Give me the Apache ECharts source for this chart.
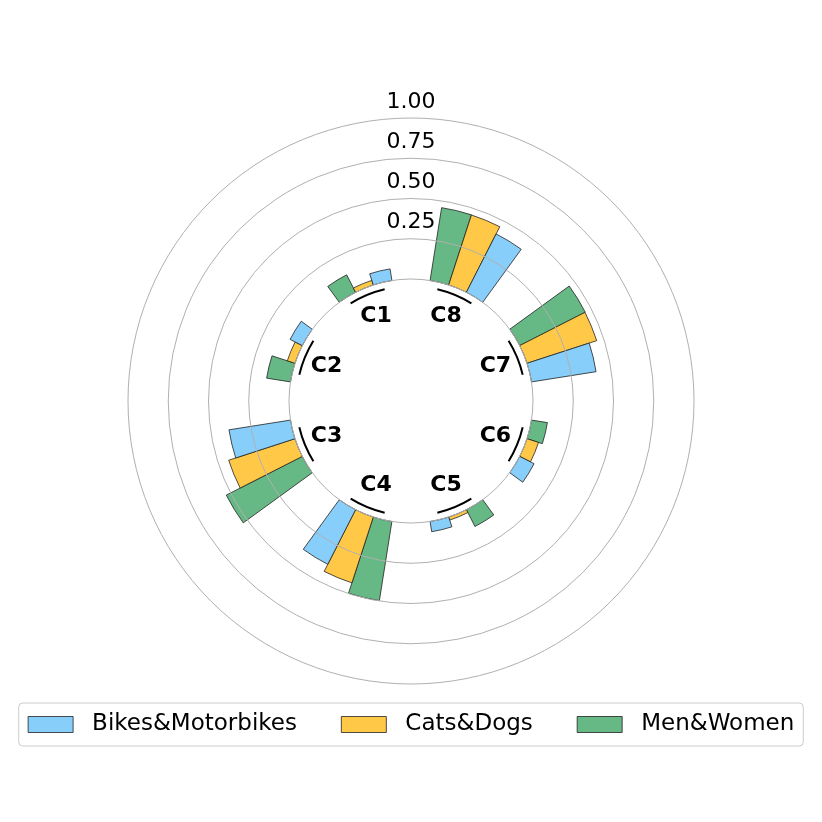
<!DOCTYPE html>
<html>
<head>
<meta charset="utf-8">
<script src="https://cdn.jsdelivr.net/npm/echarts@6/dist/echarts.min.js"></script>
<style>
  html, body { margin: 0; padding: 0; background: #fff; }
  #chart { width: 822px; height: 822px; }
</style>
</head>
<body>
<div id="chart"></div>
<script>
// categories and series values
const categories = ['C1', 'C2', 'C3', 'C4', 'C5', 'C6', 'C7', 'C8']
const bikes = [0.073, 0.085, 0.387, 0.381, 0.064, 0.100, 0.406, 0.407]
const cats = [0.030, 0.050, 0.433, 0.430, 0.020, 0.075, 0.455, 0.457]
const men = [0.122, 0.150, 0.530, 0.498, 0.117, 0.100, 0.457, 0.458]
const seriesNames = ['Bikes&Motorbikes', 'Cats&Dogs', 'Men&Women']
const radiusTicks = [0, 0.25, 0.5, 0.75, 1.0]

const colors = ['#87CEFA', '#FFC947', '#66B884']
const font = 'DejaVu Sans'

const chart = echarts.init(document.getElementById('chart'))

// added in reverse so that, going counter-clockwise, bikes come first
const barSeries = [bikes, cats, men].map((vals, k) => ({
  type: 'bar',
  name: seriesNames[k],
  coordinateSystem: 'polar',
  data: vals,
  barGap: '0%',
  barCategoryGap: '40%',
  itemStyle: {
    color: colors[k],
    borderColor: '#222',
    borderWidth: 0.8
  }
})).reverse()

// category labels and the black arcs inside the hole
const labelSeries = {
  type: 'custom',
  coordinateSystem: 'polar',
  silent: true,
  data: categories.map((c, i) => [0, i]),
  renderItem(params, api) {
    const i = api.value(1)
    const cs = params.coordSys
    const base = api.coord([0, i])
    const a = Math.atan2(base[1] - cs.cy, base[0] - cs.cx)
    const half = Math.PI / 8 * 0.41
    const arcR = api.coord([-0.045, i])
    const r = Math.hypot(arcR[0] - cs.cx, arcR[1] - cs.cy)
    const tp = api.coord([-0.19, i])
    return {
      type: 'group',
      children: [
        {
          type: 'arc',
          shape: { cx: cs.cx, cy: cs.cy, r: r, startAngle: a - half, endAngle: a + half },
          style: { stroke: '#000', lineWidth: 2, fill: null }
        },
        {
          type: 'text',
          x: tp[0],
          y: tp[1],
          style: {
            text: categories[i],
            fill: '#000',
            font: 'bold 22px "' + font + '"',
            align: 'center',
            verticalAlign: 'middle'
          }
        }
      ]
    }
  }
}

chart.setOption({
  animation: false,
  backgroundColor: '#fff',
  textStyle: { fontFamily: font },
  polar: {
    center: [411, 401],
    radius: [122, 283]
  },
  angleAxis: {
    type: 'category',
    data: categories,
    startAngle: 90,
    clockwise: false,
    axisLine: { show: false },
    axisTick: { show: false },
    axisLabel: { show: false },
    splitLine: { show: false }
  },
  radiusAxis: {
    type: 'value',
    min: radiusTicks[0],
    max: radiusTicks[radiusTicks.length - 1],
    interval: radiusTicks[1] - radiusTicks[0],
    axisLine: { show: false },
    axisTick: { show: false },
    axisLabel: {
      showMinLabel: false,
      margin: 0,
      align: 'center',
      verticalAlign: 'bottom',
      padding: [0, 0, 5, 0],
      color: '#000',
      fontSize: 22,
      fontFamily: font,
      formatter: v => v.toFixed(2)
    },
    splitLine: {
      show: true,
      lineStyle: { color: '#b0b0b0', width: 1 }
    },
    z: 5
  },
  legend: {
    data: seriesNames,
    top: 703,
    left: 'center',
    icon: 'rect',
    itemWidth: 45,
    itemHeight: 16,
    itemGap: 44,
    padding: [10, 9, 10, 9],
    borderColor: '#cccccc',
    borderWidth: 1,
    borderRadius: 4,
    itemStyle: { borderWidth: 0.8, borderColor: '#222' },
    textStyle: {
      color: '#000',
      fontSize: 23,
      fontFamily: font,
      padding: [0, 0, 0, 14]
    }
  },
  series: [...barSeries, labelSeries]
})
</script>
</body>
</html>
